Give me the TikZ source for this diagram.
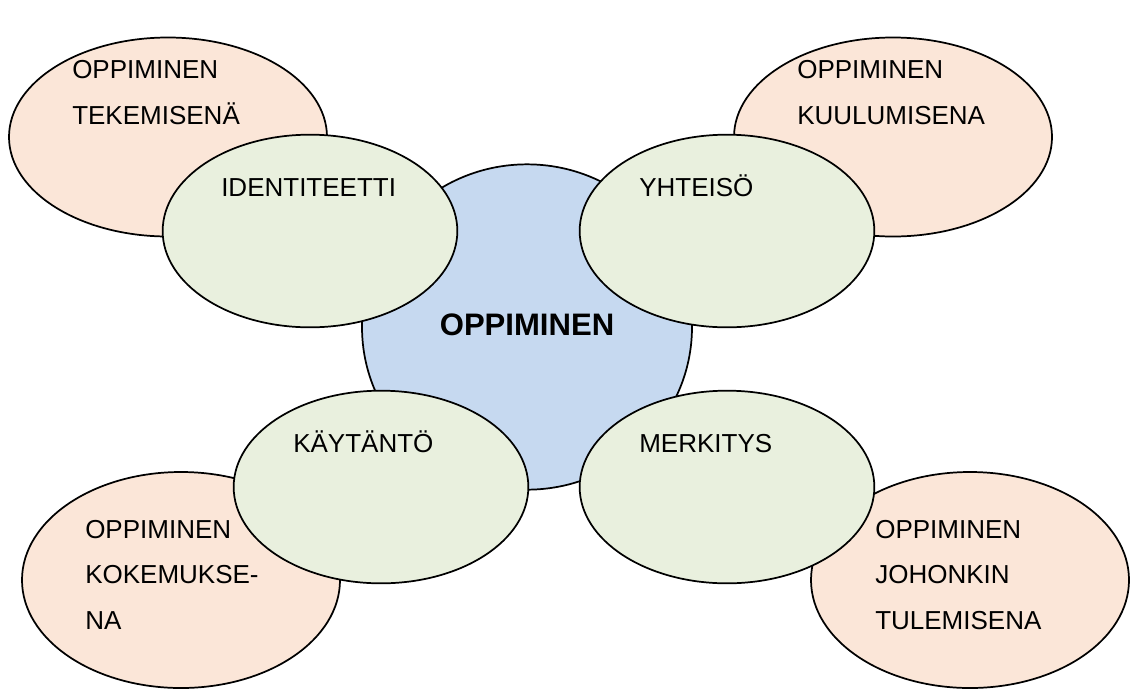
\documentclass[tikz,border=0pt]{standalone}
\usepackage{fontspec}
\setmainfont{Liberation Sans}
\usetikzlibrary{shapes.geometric}
\definecolor{PeachClr}{RGB}{251,230,216}
\definecolor{LeafClr}{RGB}{233,240,222}
\definecolor{CoreClr}{RGB}{198,217,240}

\begin{document}
\begin{tikzpicture}[x=0.75pt,y=-0.75pt,
  blob/.style={ellipse,draw=black,line width=1.3pt,inner sep=0pt},
  way/.style={blob,fill=PeachClr,minimum width=238.5pt,minimum height=149.25pt},
  lowway/.style={way,minimum height=162pt},
  part/.style={blob,fill=LeafClr,minimum width=221pt,minimum height=144.5pt},
  core/.style={blob,fill=CoreClr,minimum width=247.5pt,minimum height=244pt},
  txt/.style={anchor=base west,inner sep=0pt,align=left,font=\fontsize{19.5}{34.1}\selectfont}]
\useasboundingbox (0,0) rectangle (1130,689);

\node[way] (Tek) at (168,137) {};
\node[way] (Kuu) at (893,137) {};
\node[lowway] (Kok) at (181,580) {};
\node[lowway] (Tul) at (970,580) {};

\node[core] (Opp) at (527,327) {};

\node[part] (Ide) at (310,231) {};
\node[part] (Yht) at (727,231) {};
\node[part] (Kay) at (381,487) {};
\node[part] (Mer) at (727,487) {};

\node[txt] (tTek) at (72,124) {OPPIMINEN\\TEKEMISENÄ};
\node[txt] (tKuu) at (797,124) {OPPIMINEN\\KUULUMISENA};
\node[txt] (tKok) at (85,629) {OPPIMINEN\\KOKEMUKSE-\\NA};
\node[txt] (tTul) at (875,629) {OPPIMINEN\\JOHONKIN\\TULEMISENA};

\node[txt] (tIde) at (221,196) {IDENTITEETTI};
\node[txt] (tYht) at (639,196) {YHTEISÖ};
\node[txt] (tKay) at (293,452) {KÄYTÄNTÖ};
\node[txt] (tMer) at (639,452) {MERKITYS};

\node[anchor=base,inner sep=0pt,font=\fontsize{23.3}{28}\selectfont\bfseries] (tOpp) at (527,335) {OPPIMINEN};

\end{tikzpicture}
\end{document}
